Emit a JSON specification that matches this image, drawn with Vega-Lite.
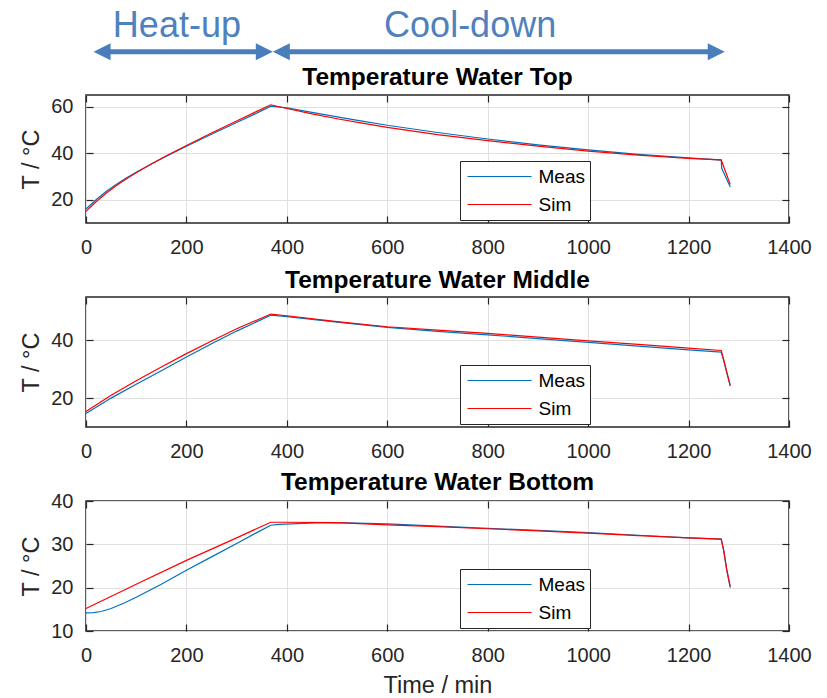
{
  "$schema": "https://vega.github.io/schema/vega-lite/v6.json",
  "background": "white",
  "padding": {"left": 19, "top": 0, "right": 15, "bottom": 6},
  "bounds": "flush",
  "spacing": 74,
  "config": {
    "font": "Liberation Sans",
    "view": {"stroke": "#262626", "strokeWidth": 1.5},
    "axis": {
      "labelFontSize": 20, "labelColor": "#262626", "labelFont": "Liberation Sans",
      "titleFontSize": 23.5, "titleFontWeight": "normal", "titleColor": "#262626", "titleFont": "Liberation Sans",
      "tickColor": "#262626", "tickSize": -7, "tickWidth": 1.2, "domain": false,
      "gridColor": "#e0e0e0", "gridWidth": 1,
      "labelFlush": false, "labelOverlap": false, "labelBound": false, "format": "d"
    },
    "legend": {
      "symbolType": "M-0.8,0H5.6", "symbolSize": 400, "symbolStrokeWidth": 1,
      "labelFontSize": 19, "labelColor": "black", "labelFont": "Liberation Sans",
      "labelOffset": 52.5, "rowPadding": 7, "padding": 5,
      "strokeColor": "#262626", "fillColor": "white"
    },
    "title": {"fontSize": 24.5, "fontWeight": "bold", "color": "black", "font": "Liberation Sans", "frame": "group", "anchor": "middle", "baseline": "alphabetic"}
  },
  "datasets": {
    "top": [
      {"t": 0, "T": 16.0, "s": "Meas"}, {"t": 20, "T": 20.0, "s": "Meas"}, {"t": 40, "T": 23.5, "s": "Meas"}, {"t": 60, "T": 26.55, "s": "Meas"},
      {"t": 80, "T": 29.3, "s": "Meas"}, {"t": 100, "T": 31.85, "s": "Meas"}, {"t": 130, "T": 35.35, "s": "Meas"}, {"t": 160, "T": 38.7, "s": "Meas"},
      {"t": 200, "T": 42.95, "s": "Meas"}, {"t": 250, "T": 48.1, "s": "Meas"}, {"t": 300, "T": 53.15, "s": "Meas"}, {"t": 340, "T": 57.2, "s": "Meas"},
      {"t": 368, "T": 60.2, "s": "Meas"}, {"t": 400, "T": 59.5, "s": "Meas"}, {"t": 450, "T": 57.5, "s": "Meas"},
      {"t": 500, "T": 55.6, "s": "Meas"}, {"t": 550, "T": 53.8, "s": "Meas"}, {"t": 600, "T": 52.0, "s": "Meas"}, {"t": 700, "T": 48.9, "s": "Meas"}, {"t": 800, "T": 46.1, "s": "Meas"},
      {"t": 900, "T": 43.6, "s": "Meas"}, {"t": 1000, "T": 41.4, "s": "Meas"}, {"t": 1100, "T": 39.5, "s": "Meas"}, {"t": 1200, "T": 38.0, "s": "Meas"},
      {"t": 1265, "T": 37.0, "s": "Meas"}, {"t": 1266, "T": 33.5, "s": "Meas"}, {"t": 1283, "T": 25.5, "s": "Meas"},
      {"t": 0, "T": 15.0, "s": "Sim"}, {"t": 20, "T": 19.15, "s": "Sim"}, {"t": 40, "T": 22.75, "s": "Sim"}, {"t": 60, "T": 26.0, "s": "Sim"},
      {"t": 80, "T": 28.9, "s": "Sim"}, {"t": 100, "T": 31.6, "s": "Sim"}, {"t": 130, "T": 35.35, "s": "Sim"}, {"t": 160, "T": 38.9, "s": "Sim"},
      {"t": 200, "T": 43.3, "s": "Sim"}, {"t": 250, "T": 48.65, "s": "Sim"}, {"t": 300, "T": 53.85, "s": "Sim"}, {"t": 340, "T": 57.95, "s": "Sim"},
      {"t": 368, "T": 60.8, "s": "Sim"}, {"t": 400, "T": 59.2, "s": "Sim"}, {"t": 450, "T": 56.9, "s": "Sim"},
      {"t": 500, "T": 54.8, "s": "Sim"}, {"t": 550, "T": 52.9, "s": "Sim"}, {"t": 600, "T": 51.1, "s": "Sim"}, {"t": 700, "T": 48.0, "s": "Sim"}, {"t": 800, "T": 45.4, "s": "Sim"},
      {"t": 900, "T": 43.0, "s": "Sim"}, {"t": 1000, "T": 40.9, "s": "Sim"}, {"t": 1100, "T": 39.2, "s": "Sim"}, {"t": 1200, "T": 37.8, "s": "Sim"},
      {"t": 1265, "T": 37.1, "s": "Sim"}, {"t": 1283, "T": 26.6, "s": "Sim"}
    ],
    "middle": [
      {"t": 0, "T": 14.7, "s": "Meas"}, {"t": 50, "T": 20.0, "s": "Meas"}, {"t": 100, "T": 24.8, "s": "Meas"}, {"t": 150, "T": 29.5, "s": "Meas"},
      {"t": 200, "T": 34.2, "s": "Meas"}, {"t": 250, "T": 38.8, "s": "Meas"}, {"t": 300, "T": 43.2, "s": "Meas"}, {"t": 368, "T": 48.7, "s": "Meas"},
      {"t": 400, "T": 48.2, "s": "Meas"}, {"t": 500, "T": 46.3, "s": "Meas"}, {"t": 600, "T": 44.5, "s": "Meas"}, {"t": 700, "T": 43.1, "s": "Meas"},
      {"t": 800, "T": 41.9, "s": "Meas"}, {"t": 900, "T": 40.6, "s": "Meas"}, {"t": 1000, "T": 39.3, "s": "Meas"}, {"t": 1100, "T": 38.0, "s": "Meas"},
      {"t": 1200, "T": 36.7, "s": "Meas"}, {"t": 1265, "T": 35.9, "s": "Meas"}, {"t": 1270, "T": 33.0, "s": "Meas"}, {"t": 1275, "T": 29.5, "s": "Meas"},
      {"t": 1283, "T": 24.2, "s": "Meas"},
      {"t": 0, "T": 15.4, "s": "Sim"}, {"t": 50, "T": 21.0, "s": "Sim"}, {"t": 100, "T": 26.0, "s": "Sim"}, {"t": 150, "T": 30.8, "s": "Sim"},
      {"t": 200, "T": 35.4, "s": "Sim"}, {"t": 250, "T": 39.8, "s": "Sim"}, {"t": 300, "T": 44.0, "s": "Sim"}, {"t": 368, "T": 49.1, "s": "Sim"},
      {"t": 400, "T": 48.5, "s": "Sim"}, {"t": 500, "T": 46.5, "s": "Sim"}, {"t": 600, "T": 44.7, "s": "Sim"}, {"t": 700, "T": 43.5, "s": "Sim"},
      {"t": 800, "T": 42.4, "s": "Sim"}, {"t": 900, "T": 41.1, "s": "Sim"}, {"t": 1000, "T": 39.8, "s": "Sim"}, {"t": 1100, "T": 38.6, "s": "Sim"},
      {"t": 1200, "T": 37.3, "s": "Sim"}, {"t": 1265, "T": 36.5, "s": "Sim"}, {"t": 1270, "T": 33.3, "s": "Sim"}, {"t": 1275, "T": 29.8, "s": "Sim"},
      {"t": 1283, "T": 24.4, "s": "Sim"}
    ],
    "bottom": [
      {"t": 0, "T": 14.2, "s": "Meas"}, {"t": 15, "T": 14.25, "s": "Meas"}, {"t": 30, "T": 14.5, "s": "Meas"}, {"t": 50, "T": 15.2, "s": "Meas"},
      {"t": 75, "T": 16.4, "s": "Meas"}, {"t": 100, "T": 17.8, "s": "Meas"}, {"t": 125, "T": 19.3, "s": "Meas"}, {"t": 150, "T": 20.8, "s": "Meas"},
      {"t": 175, "T": 22.4, "s": "Meas"}, {"t": 200, "T": 24.0, "s": "Meas"}, {"t": 250, "T": 27.1, "s": "Meas"}, {"t": 300, "T": 30.2, "s": "Meas"},
      {"t": 340, "T": 32.7, "s": "Meas"}, {"t": 368, "T": 34.4, "s": "Meas"}, {"t": 385, "T": 34.6, "s": "Meas"}, {"t": 420, "T": 34.8, "s": "Meas"},
      {"t": 460, "T": 34.95, "s": "Meas"}, {"t": 500, "T": 35.0, "s": "Meas"}, {"t": 600, "T": 34.7, "s": "Meas"}, {"t": 700, "T": 34.2, "s": "Meas"},
      {"t": 800, "T": 33.7, "s": "Meas"}, {"t": 900, "T": 33.2, "s": "Meas"}, {"t": 1000, "T": 32.7, "s": "Meas"}, {"t": 1100, "T": 32.1, "s": "Meas"},
      {"t": 1200, "T": 31.5, "s": "Meas"}, {"t": 1265, "T": 31.2, "s": "Meas"}, {"t": 1270, "T": 28.5, "s": "Meas"}, {"t": 1276, "T": 24.0, "s": "Meas"},
      {"t": 1283, "T": 20.0, "s": "Meas"},
      {"t": 0, "T": 15.2, "s": "Sim"}, {"t": 100, "T": 20.8, "s": "Sim"}, {"t": 200, "T": 26.3, "s": "Sim"}, {"t": 300, "T": 31.5, "s": "Sim"},
      {"t": 368, "T": 35.1, "s": "Sim"}, {"t": 400, "T": 35.1, "s": "Sim"}, {"t": 500, "T": 35.0, "s": "Sim"}, {"t": 600, "T": 34.5, "s": "Sim"},
      {"t": 700, "T": 34.1, "s": "Sim"}, {"t": 800, "T": 33.6, "s": "Sim"}, {"t": 900, "T": 33.1, "s": "Sim"}, {"t": 1000, "T": 32.6, "s": "Sim"},
      {"t": 1100, "T": 32.0, "s": "Sim"}, {"t": 1200, "T": 31.5, "s": "Sim"}, {"t": 1265, "T": 31.2, "s": "Sim"}, {"t": 1270, "T": 28.6, "s": "Sim"},
      {"t": 1276, "T": 24.2, "s": "Sim"}, {"t": 1283, "T": 20.3, "s": "Sim"}
    ],
    "shafts": [
      {"phase": "Heat-up", "from": 31, "to": 356, "level": -1.462},
      {"phase": "Cool-down", "from": 388, "to": 1256, "level": -1.462}
    ],
    "heads": [
      {"tip": 15, "level": -1.462, "dir": "left"},
      {"tip": 372, "level": -1.462, "dir": "right"},
      {"tip": 372, "level": -1.462, "dir": "left"},
      {"tip": 1272, "level": -1.462, "dir": "right"}
    ],
    "labels": [
      {"label": "Heat-up", "at": 181, "level": -0.748},
      {"label": "Cool-down", "at": 765, "level": -0.748}
    ]
  },
  "resolve": {"legend": {"color": "independent"}},
  "vconcat": [
    {
      "width": 703, "height": 21,
      "view": {"stroke": null},
      "layer": [
        {
          "data": {"name": "shafts"},
          "mark": {"type": "rule", "strokeWidth": 5, "color": "#4A7EBB"},
          "encoding": {
            "x": {"field": "from", "type": "quantitative", "scale": {"domain": [0, 1400]}, "axis": null},
            "x2": {"field": "to"},
            "y": {"field": "level", "type": "quantitative", "scale": {"domain": [0, 1]}, "axis": null}
          }
        },
        {
          "data": {"name": "heads"},
          "mark": {"type": "point", "filled": true, "opacity": 1, "size": 289, "color": "#4A7EBB"},
          "encoding": {
            "x": {"field": "tip", "type": "quantitative", "scale": {"domain": [0, 1400]}, "axis": null},
            "y": {"field": "level", "type": "quantitative", "scale": {"domain": [0, 1]}, "axis": null},
            "shape": {"field": "dir", "type": "nominal", "scale": {"domain": ["left", "right"], "range": ["M0,0L2,-1L2,1Z", "M0,0L-2,-1L-2,1Z"]}, "legend": null}
          }
        },
        {
          "data": {"name": "labels"},
          "mark": {"type": "text", "fontSize": 36, "font": "Liberation Sans", "color": "#4F81BD", "align": "center", "baseline": "alphabetic"},
          "encoding": {
            "x": {"field": "at", "type": "quantitative", "scale": {"domain": [0, 1400]}, "axis": null},
            "y": {"field": "level", "type": "quantitative", "scale": {"domain": [0, 1]}, "axis": null},
            "text": {"field": "label"}
          }
        }
      ]
    },
    {
      "title": {"text": "Temperature Water Top", "offset": 4},
      "width": 703, "height": 128,
      "data": {"name": "top"},
      "layer": [
        {
          "mark": {"type": "line", "strokeWidth": 1.2},
          "encoding": {
            "x": {"field": "t", "type": "quantitative", "scale": {"domain": [0, 1400]}, "axis": {"orient": "bottom", "values": [0, 200, 400, 600, 800, 1000, 1200, 1400], "title": null, "grid": true, "labelPadding": 21}},
            "y": {"field": "T", "type": "quantitative", "scale": {"domain": [10, 65]}, "axis": {"orient": "left", "values": [20, 40, 60], "title": "T / °C", "grid": true, "labelPadding": 20, "titlePadding": 7}},
            "color": {"field": "s", "type": "nominal", "scale": {"domain": ["Meas", "Sim"], "range": ["#0072BD", "#FF0000"]}, "legend": {"orient": "none", "legendX": 374, "legendY": 66, "title": null, "encode": {"symbols": {"update": {"stroke": {"scale": "color", "field": "value"}}}}}}
          }
        },
        {
          "mark": {"type": "point", "opacity": 0},
          "encoding": {
            "x": {"field": "t", "type": "quantitative", "scale": {"domain": [0, 1400]}, "axis": {"orient": "top", "values": [0, 200, 400, 600, 800, 1000, 1200, 1400], "labels": false, "title": null, "grid": false}},
            "y": {"field": "T", "type": "quantitative", "scale": {"domain": [10, 65]}, "axis": {"orient": "right", "values": [20, 40, 60], "labels": false, "title": null, "grid": false}}
          }
        }
      ],
      "resolve": {"axis": {"x": "independent", "y": "independent"}}
    },
    {
      "title": {"text": "Temperature Water Middle", "offset": 3},
      "width": 703, "height": 130,
      "data": {"name": "middle"},
      "layer": [
        {
          "mark": {"type": "line", "strokeWidth": 1.2},
          "encoding": {
            "x": {"field": "t", "type": "quantitative", "scale": {"domain": [0, 1400]}, "axis": {"orient": "bottom", "values": [0, 200, 400, 600, 800, 1000, 1200, 1400], "title": null, "grid": true, "labelPadding": 21}},
            "y": {"field": "T", "type": "quantitative", "scale": {"domain": [10, 55]}, "axis": {"orient": "left", "values": [20, 40], "title": "T / °C", "grid": true, "labelPadding": 20, "titlePadding": 7}},
            "color": {"field": "s", "type": "nominal", "scale": {"domain": ["Meas", "Sim"], "range": ["#0072BD", "#FF0000"]}, "legend": {"orient": "none", "legendX": 374, "legendY": 68, "title": null, "encode": {"symbols": {"update": {"stroke": {"scale": "color", "field": "value"}}}}}}
          }
        },
        {
          "mark": {"type": "point", "opacity": 0},
          "encoding": {
            "x": {"field": "t", "type": "quantitative", "scale": {"domain": [0, 1400]}, "axis": {"orient": "top", "values": [0, 200, 400, 600, 800, 1000, 1200, 1400], "labels": false, "title": null, "grid": false}},
            "y": {"field": "T", "type": "quantitative", "scale": {"domain": [10, 55]}, "axis": {"orient": "right", "values": [20, 40], "labels": false, "title": null, "grid": false}}
          }
        }
      ],
      "resolve": {"axis": {"x": "independent", "y": "independent"}}
    },
    {
      "title": {"text": "Temperature Water Bottom", "offset": -4},
      "width": 703, "height": 130,
      "data": {"name": "bottom"},
      "layer": [
        {
          "mark": {"type": "line", "strokeWidth": 1.2},
          "encoding": {
            "x": {"field": "t", "type": "quantitative", "scale": {"domain": [0, 1400]}, "axis": {"orient": "bottom", "values": [0, 200, 400, 600, 800, 1000, 1200, 1400], "title": "Time / min", "grid": true, "labelPadding": 21, "titlePadding": 8}},
            "y": {"field": "T", "type": "quantitative", "scale": {"domain": [10, 40]}, "axis": {"orient": "left", "values": [10, 20, 30, 40], "title": "T / °C", "grid": true, "labelPadding": 20, "titlePadding": 7}},
            "color": {"field": "s", "type": "nominal", "scale": {"domain": ["Meas", "Sim"], "range": ["#0072BD", "#FF0000"]}, "legend": {"orient": "none", "legendX": 374, "legendY": 68, "title": null, "encode": {"symbols": {"update": {"stroke": {"scale": "color", "field": "value"}}}}}}
          }
        },
        {
          "mark": {"type": "point", "opacity": 0},
          "encoding": {
            "x": {"field": "t", "type": "quantitative", "scale": {"domain": [0, 1400]}, "axis": {"orient": "top", "values": [0, 200, 400, 600, 800, 1000, 1200, 1400], "labels": false, "title": null, "grid": false}},
            "y": {"field": "T", "type": "quantitative", "scale": {"domain": [10, 40]}, "axis": {"orient": "right", "values": [10, 20, 30, 40], "labels": false, "title": null, "grid": false}}
          }
        }
      ],
      "resolve": {"axis": {"x": "independent", "y": "independent"}}
    }
  ]
}
